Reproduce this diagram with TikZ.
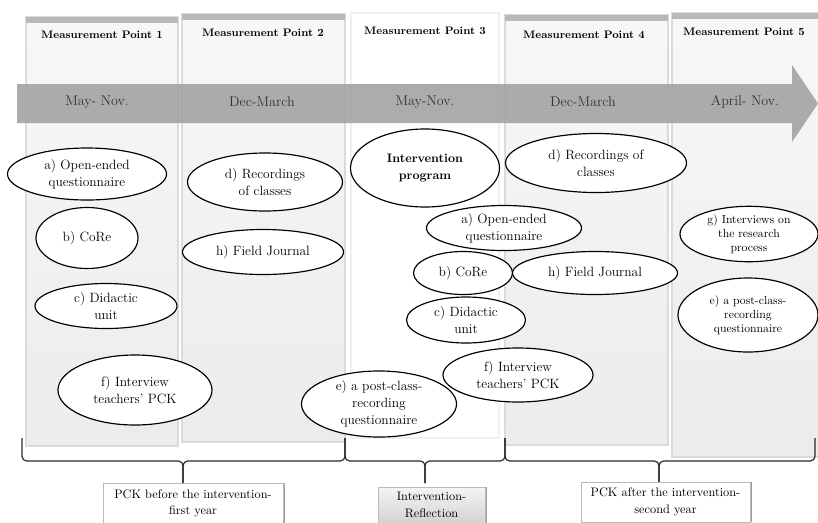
\documentclass[tikz,border=0pt]{standalone}
\usepackage{tikz}
\usetikzlibrary{shapes.geometric,shadows}

\begin{document}
\begin{tikzpicture}[x=0.03cm, y=-0.03cm,
  colbox/.style={draw=gray!28, line width=1.2pt, top color=gray!6, bottom color=gray!15},
  colbar/.style={fill=gray!55},
  head/.style={font=\fontsize{9.3}{11}\selectfont\bfseries},
  month/.style={font=\fontsize{12}{14}\selectfont, text=black!80},
  oval/.style 2 args={ellipse, draw=black, line width=1pt, fill=white, inner sep=0pt, align=center,
    minimum width=#1*0.3mm, minimum height=#2*0.3mm, font=\fontsize{11.5}{14.5}\selectfont},
  small/.style={font=\fontsize{10}{12}\selectfont},
  phase/.style 2 args={rectangle, draw=gray!55, fill=white, align=center, inner sep=0pt,
    minimum width=#1*0.3mm, minimum height=#2*0.3mm, font=\fontsize{10.5}{14}\selectfont,
    drop shadow={shadow xshift=1.6pt, shadow yshift=0pt, fill=gray!75, opacity=1}},
  bracket/.style={draw=black!85, line width=1pt, rounded corners=4pt}]

\clip (0,0) rectangle (818,522);

%columns
\foreach \xa/\xb/\ya/\yb in {26/178/17/446, 182/345/14/442, 505/668/15/445, 672/822/13/457}
{
\draw[colbox] (\xa,\ya) rectangle (\xb,\yb);
\fill[colbar] (\xa,\ya) rectangle (\xb,\ya+6);
}
\draw[draw=gray!12, line width=2pt, fill=white] (351,13) rectangle (499,438);

%headers
\foreach \k/\x/\y in {1/102/35, 2/263/33, 3/425/31, 4/584/35, 5/744/32}
\node[head] (mp\k) at (\x,\y) {Measurement Point \k};

%band
\fill[black!36, opacity=0.9] (17,84) -- (792,84) -- (792,65) -- (818,103.5)
  -- (792,142) -- (792,123) -- (17,123) -- cycle;
\foreach \k/\x/\m in {1/97/May- Nov., 2/262/Dec-March, 3/425/May-Nov., 4/583/Dec-March, 5/745/April- Nov.}
\node[month] (per\k) at (\x,102) {\m};

%ovals
\node[oval={159}{52}] (open1) at (87,174) {a) Open-ended\\questionnaire};
\node[oval={102}{61}] (core1) at (87,238) {b) CoRe};
\node[oval={142}{45}] (unit1) at (106,306) {c) Didactic\\unit};
\node[oval={154}{70}] (talk1) at (135,390) {f) Interview\\teachers' PCK};
\node[oval={155}{58}] (rec2) at (265,182) {d) Recordings\\of classes};
\node[oval={161}{45}] (journal2) at (263,252) {h) Field Journal};
\node[oval={149}{78}, font=\fontsize{10.5}{14}\selectfont\bfseries] (prog3) at (425,168) {Intervention\\program};
\node[oval={155}{45}] (open3) at (504,228) {a) Open-ended\\questionnaire};
\node[oval={99}{43}] (core3) at (463,273) {b) CoRe};
\node[oval={119}{46}] (unit3) at (466,320) {c) Didactic\\unit};
\node[oval={181}{59}] (rec4) at (596,163) {d) Recordings of\\classes};
\node[oval={165}{43}] (journal4) at (595,273) {h) Field Journal};
\node[oval={150}{54}] (talk4) at (518,375) {f) Interview\\teachers' PCK};
\node[oval={155}{65}] (post3) at (379,404) {e) a post-class-\\recording\\questionnaire};
\node[oval={138}{55}, small] (talk5) at (749,234) {g) Interviews on\\the research\\process};
\node[oval={140}{74}, small] (post5) at (748,315) {e) a post-class-\\recording\\questionnaire};

%braces
\foreach \l/\m/\r in {22/183/345, 345/425/505, 505/659/815}
{
\draw[bracket] (\l,438) -- (\l,461) -- (\m,461) -- (\m,483);
\draw[bracket] (\r,438) -- (\r,461) -- (\m,461) -- (\m,483);
}

%phases
\node[phase={180}{41}] (before) at (193,503.5) {PCK before the intervention-\\first year};
\node[phase={107}{36}, top color=gray!8, bottom color=gray!35] (reflect) at (431.5,505) {Intervention-\\Reflection};
\node[phase={169}{40}] (after) at (665.5,502) {PCK after the intervention-\\second year};

\end{tikzpicture}
\end{document}
